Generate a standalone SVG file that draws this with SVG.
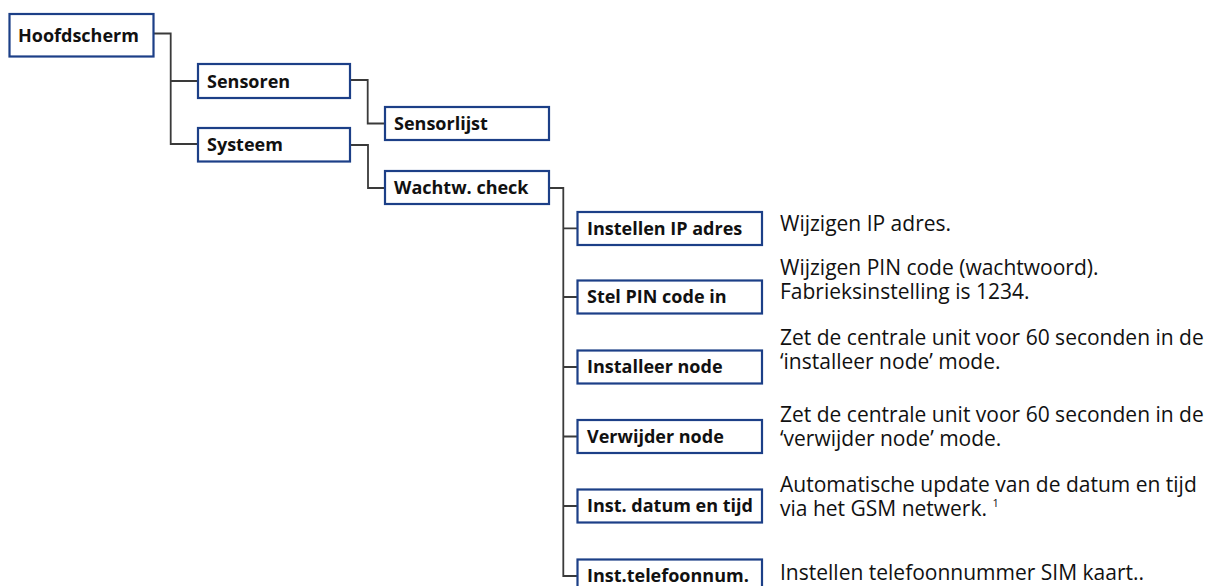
<svg xmlns="http://www.w3.org/2000/svg" width="1213" height="586" viewBox="0 0 1213 586">
<style>
.box{fill:#fff;stroke:#1c3f87;stroke-width:2.2}
.lbl{font-family:"Open Sans","Liberation Sans",sans-serif;font-weight:bold;font-size:18px;fill:#111}
.desc{font-family:"Open Sans","Liberation Sans",sans-serif;font-size:21px;fill:#111}
.con{fill:none;stroke:#3a3a3a;stroke-width:1.8}
</style>
<rect width="1213" height="586" fill="#fff"/>
<g id="connectors" class="con">
<path d="M154,33.5 H170.7 V144 H197 M170.7,81 H197"/>
<path d="M351,80 H367.7 V123.5 H384"/>
<path d="M351,145 H368 V188 H384"/>
<path d="M549,188 H563.3 V576 H577 M563.3,228.4 H577 M563.3,297 H577 M563.3,367 H577 M563.3,436.5 H577 M563.3,506 H577"/>
</g>
<g id="hoofdscherm"><rect class="box" x="9.5" y="14" width="144" height="42.5"/><text class="lbl" x="18" y="42">Hoofdscherm</text></g>
<g id="sensoren"><rect class="box" x="198" y="64" width="152" height="34"/><text class="lbl" x="207" y="87.5">Sensoren</text></g>
<g id="systeem"><rect class="box" x="198" y="128" width="152" height="33.5"/><text class="lbl" x="207" y="151">Systeem</text></g>
<g id="sensorlijst"><rect class="box" x="385" y="107" width="164" height="33"/><text class="lbl" x="394" y="130">Sensorlijst</text></g>
<g id="wachtw"><rect class="box" x="385" y="171" width="164" height="33"/><text class="lbl" x="394" y="193.5">Wachtw. check</text></g>
<g id="ip"><rect class="box" x="577.5" y="212" width="184.5" height="33"/><text class="lbl" x="587" y="234.5">Instellen IP adres</text><text class="desc" x="780" y="231">Wijzigen IP adres.</text></g>
<g id="pin"><rect class="box" x="577.5" y="280.5" width="184.5" height="33"/><text class="lbl" x="587" y="303">Stel PIN code in</text><text class="desc" x="780" y="275">Wijzigen PIN code (wachtwoord).</text><text class="desc" x="780" y="299">Fabrieksinstelling is 1234.</text></g>
<g id="installeer"><rect class="box" x="577.5" y="350.5" width="184.5" height="33"/><text class="lbl" x="587" y="373">Installeer node</text><text class="desc" x="780" y="345">Zet de centrale unit voor 60 seconden in de</text><text class="desc" x="780" y="369">‘installeer node’ mode.</text></g>
<g id="verwijder"><rect class="box" x="577.5" y="420" width="184.5" height="33"/><text class="lbl" x="587" y="442.5">Verwijder node</text><text class="desc" x="780" y="421.5">Zet de centrale unit voor 60 seconden in de</text><text class="desc" x="780" y="445.5">‘verwijder node’ mode.</text></g>
<g id="datum"><rect class="box" x="577.5" y="489.5" width="184.5" height="33"/><text class="lbl" x="587" y="512">Inst. datum en tijd</text><text class="desc" x="780" y="492">Automatische update van de datum en tijd</text><text class="desc" x="780" y="516">via het GSM netwerk. <tspan font-size="11" dy="-9">1</tspan></text></g>
<g id="telefoon"><rect class="box" x="577.5" y="559.5" width="184.5" height="33"/><text class="lbl" x="587" y="582">Inst.telefoonnum.</text><text class="desc" x="780" y="580">Instellen telefoonnummer SIM kaart..</text></g>
</svg>
